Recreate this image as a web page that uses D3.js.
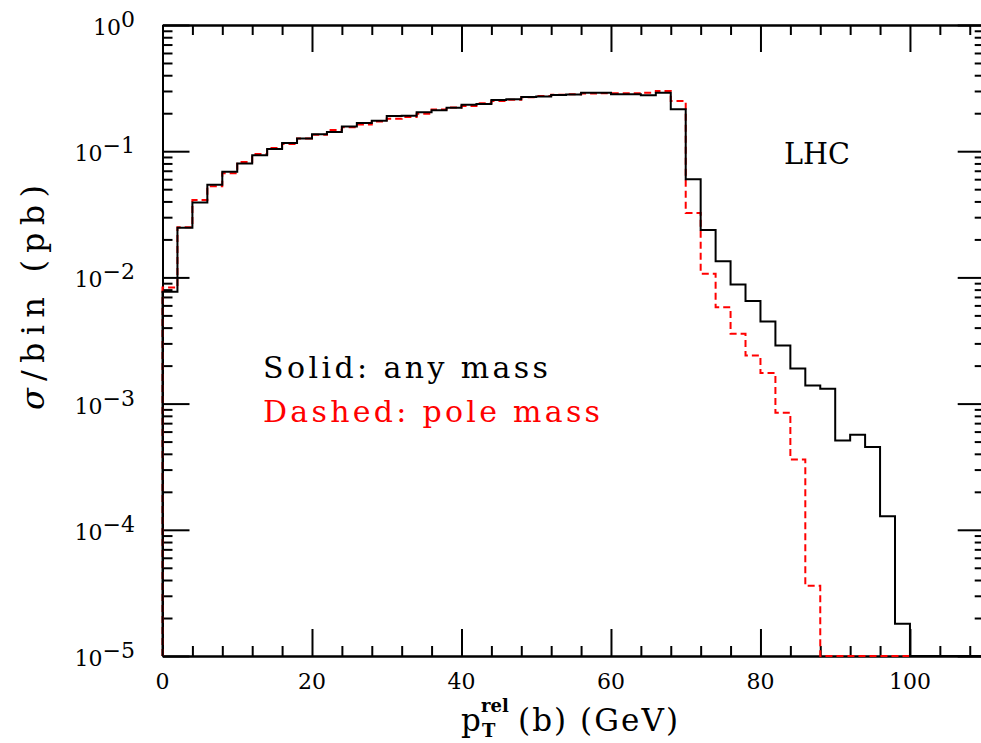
<!DOCTYPE html>
<html>
<head>
<meta charset="utf-8">
<script src="https://cdn.jsdelivr.net/npm/d3@7"></script>
<style>
  body { margin: 0; background: #fff; }
  text { font-family: "DejaVu Serif", serif; fill: #000; }
  .axis path, .axis line { stroke: #000; stroke-width: 2; }
</style>
</head>
<body>
<svg width="981" height="743"></svg>
<script>
// Lower bin edges (GeV), 2 GeV wide bins
var binEdges = [0, 2, 4, 6, 8, 10, 12, 14, 16, 18, 20, 22, 24, 26, 28, 30, 32, 34, 36, 38,
  40, 42, 44, 46, 48, 50, 52, 54, 56, 58, 60, 62, 64, 66, 68, 70, 72, 74, 76, 78,
  80, 82, 84, 86, 88, 90, 92, 94, 96, 98, 100, 102, 104, 106, 108];

// Solid: any mass (pb per bin)
var solidValues = [0.0077, 0.0247, 0.0393, 0.0542, 0.0687, 0.080, 0.093, 0.104, 0.116, 0.126,
  0.136, 0.142, 0.157, 0.167, 0.174, 0.190, 0.191, 0.204, 0.211, 0.221,
  0.233, 0.237, 0.254, 0.258, 0.269, 0.271, 0.279, 0.281, 0.290, 0.290,
  0.283, 0.283, 0.278, 0.291, 0.215, 0.060, 0.0238, 0.0134, 0.0088, 0.0065,
  0.00447, 0.00289, 0.0019, 0.00139, 0.00131, 0.000511, 0.000567, 0.000453, 0.000128, 0.000018,
  0, 0, 0, 0, 0];

// Dashed: pole mass (pb per bin)
var dashedValues = [0.0083, 0.025, 0.041, 0.0527, 0.067, 0.082, 0.095, 0.106, 0.114, 0.126,
  0.135, 0.147, 0.155, 0.163, 0.172, 0.181, 0.187, 0.198, 0.214, 0.222,
  0.228, 0.240, 0.250, 0.256, 0.268, 0.274, 0.280, 0.283, 0.286, 0.288,
  0.288, 0.288, 0.291, 0.300, 0.250, 0.0324, 0.0107, 0.0058, 0.00357, 0.0024,
  0.00175, 0.000847, 0.00036, 0.000036, 0, 0, 0, 0, 0, 0,
  0, 0, 0, 0, 0];

// Tick values
var xMajorTicks = [0, 20, 40, 60, 80, 100];
var xMinorTicks = [4, 8, 12, 16, 24, 28, 32, 36, 44, 48, 52, 56, 64, 68, 72, 76, 84, 88, 92, 96, 104, 108];
var yExponents = [0, -1, -2, -3, -4, -5];

var xMax = 110;
var yMin = 1e-5, yMax = 1;

var svg = d3.select('svg');
// plot box (right edge falls just outside the window, as in the original)
var plotLeft = 162.5, plotRight = 984.7, plotTop = 25, plotBottom = 656;

var x = d3.scaleLinear().domain([0, xMax]).range([plotLeft, plotRight]);
var y = d3.scaleLog().domain([yMin, yMax]).range([plotBottom, plotTop]);

// minor log ticks 2..9 in each decade
var yMinorTicks = [];
yExponents.slice(1).forEach(function(e) {
  for (var k = 2; k <= 9; k++) yMinorTicks.push(k * Math.pow(10, e));
});
var yMajorTicks = yExponents.map(function(e) { return Math.pow(10, e); });

function addAxis(axis, transform) {
  svg.append('g').attr('class', 'axis')
    .attr('transform', transform)
    .call(axis.tickFormat('').tickSizeOuter(0));
}

// frame and ticks, pointing inward
addAxis(d3.axisBottom(x).tickValues(xMinorTicks).tickSize(-10), 'translate(0,' + plotBottom + ')');
addAxis(d3.axisBottom(x).tickValues(xMajorTicks).tickSize(-27), 'translate(0,' + plotBottom + ')');
addAxis(d3.axisTop(x).tickValues(xMinorTicks).tickSize(-10), 'translate(0,' + plotTop + ')');
addAxis(d3.axisTop(x).tickValues(xMajorTicks).tickSize(-27), 'translate(0,' + plotTop + ')');
addAxis(d3.axisLeft(y).tickValues(yMinorTicks).tickSize(-10), 'translate(' + plotLeft + ',0)');
addAxis(d3.axisLeft(y).tickValues(yMajorTicks).tickSize(-27), 'translate(' + plotLeft + ',0)');
addAxis(d3.axisRight(y).tickValues(yMinorTicks).tickSize(-10), 'translate(' + plotRight + ',0)');
addAxis(d3.axisRight(y).tickValues(yMajorTicks).tickSize(-27), 'translate(' + plotRight + ',0)');

// x tick labels
svg.selectAll('.xlab').data(xMajorTicks).enter().append('text')
  .attr('x', function(d) { return x(d); })
  .attr('y', 689)
  .attr('text-anchor', 'middle')
  .attr('font-size', 22)
  .text(function(d) { return d; });

// y tick labels 10^n
var ylab = svg.selectAll('.ylab').data(yExponents).enter().append('text')
  .attr('x', 135)
  .attr('y', function(d) { return y(Math.pow(10, d)) + 10; })
  .attr('text-anchor', 'end')
  .attr('font-size', 22);
ylab.append('tspan').text('10');
ylab.append('tspan').attr('dy', -8)
  .text(function(d) { return d === 0 ? '0' : '\u2212' + (-d); });

// histogram as a step line
function histPoints(vals) {
  var pts = [[0, yMin]];
  vals.forEach(function(v, i) { pts.push([binEdges[i], Math.max(v, yMin)]); });
  pts.push([xMax, Math.max(vals[vals.length - 1], yMin)]);
  return pts;
}

var line = d3.line()
  .x(function(d) { return x(d[0]); })
  .y(function(d) { return y(d[1]); })
  .curve(d3.curveStepAfter);

svg.append('path')
  .attr('d', line(histPoints(dashedValues)))
  .attr('fill', 'none')
  .attr('stroke', '#ff0000')
  .attr('stroke-width', 2)
  .attr('stroke-dasharray', '7,4');

svg.append('path')
  .attr('d', line(histPoints(solidValues)))
  .attr('fill', 'none')
  .attr('stroke', '#000')
  .attr('stroke-width', 2);

// annotations
svg.append('text').attr('x', 784).attr('y', 164).attr('font-size', 29)
  .attr('textLength', 66).attr('lengthAdjust', 'spacingAndGlyphs').text('LHC');
svg.append('text').attr('x', 263).attr('y', 378).attr('font-size', 30)
  .attr('textLength', 285).text('Solid: any mass');
svg.append('text').attr('x', 263).attr('y', 422).attr('font-size', 30)
  .attr('textLength', 337).style('fill', '#ff0000').text('Dashed: pole mass');

// y axis title
var ytitle = svg.append('text')
  .attr('transform', 'translate(44,410) rotate(-90)')
  .attr('font-size', 32)
  .attr('textLength', 225);
ytitle.append('tspan').attr('font-style', 'italic').text('\u03c3');
ytitle.append('tspan').text('/bin (pb)');

// x axis title p_T^rel(b) (GeV)
svg.append('text').attr('x', 461).attr('y', 731).attr('font-size', 31).text('p');
svg.append('text').attr('x', 481).attr('y', 712).attr('font-size', 18).attr('font-weight', 'bold').text('rel');
svg.append('text').attr('x', 482).attr('y', 737).attr('font-size', 18).attr('font-weight', 'bold').text('T');
svg.append('text').attr('x', 518).attr('y', 731).attr('font-size', 31)
  .attr('textLength', 160).text('(b) (GeV)');
</script>
</body>
</html>
